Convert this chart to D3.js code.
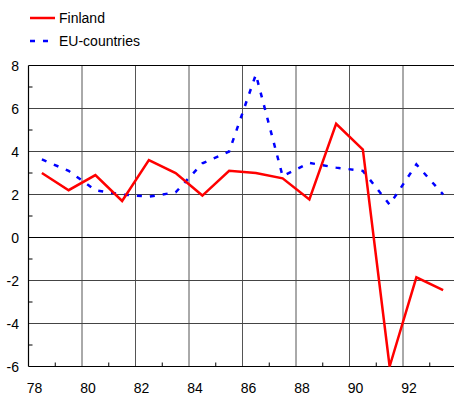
<!DOCTYPE html>
<html>
<head>
<meta charset="utf-8">
<script src="https://d3js.org/d3.v7.min.js"></script>
<style>
  body { margin: 0; background: #fff; }
  svg text { font-family: "Liberation Sans", Arial, sans-serif; font-size: 14px; fill: #000; }
</style>
</head>
<body>
<div id="chart"></div>
<script>
  "use strict"
  // data (plotted at mid-year)
  var anos = [78, 79, 80, 81, 82, 83, 84, 85, 86, 87, 88, 89, 90, 91, 92, 93];
  var finland = [3.0, 2.2, 2.9, 1.7, 3.6, 3.0, 1.95, 3.1, 3.0, 2.75, 1.77, 5.29, 4.09, -6.0, -1.85, -2.45];
  var eu = [3.63, 3.1, 2.2, 2.0, 1.9, 2.1, 3.45, 4.0, 7.58, 2.85, 3.47, 3.25, 3.1, 1.53, 3.4, 2.0];
  var xTicks = [78, 80, 82, 84, 86, 88, 90, 92];
  var yTicks = [-6, -4, -2, 0, 2, 4, 6, 8];

  var largura = 454, altura = 400;
  var svg = d3.select('#chart').append('svg')
      .attr('width', largura).attr('height', altura);

  var x = d3.scaleLinear().domain([78, 94]).range([28.5, 456.5]);
  var y = d3.scaleLinear().domain([-6, 8]).range([366.5, 65.5]);

  // grid
  svg.append('g').selectAll('line')
    .data(xTicks.slice(1))
    .enter().append('line')
      .attr('x1', d => x(d)).attr('x2', d => x(d))
      .attr('y1', y(8)).attr('y2', y(-6))
      .attr('stroke', '#555').attr('stroke-width', 1);

  svg.append('g').selectAll('line')
    .data(yTicks.slice(1))
    .enter().append('line')
      .attr('x1', x(78)).attr('x2', largura)
      .attr('y1', d => y(d)).attr('y2', d => y(d))
      .attr('stroke', d => d == 0 || d == 8 ? '#000' : '#444').attr('stroke-width', 1);

  // axes
  svg.append('line')
    .attr('x1', x(78)).attr('x2', x(78)).attr('y1', y(8)).attr('y2', y(-6))
    .attr('stroke', '#000').attr('stroke-width', 1.2);
  svg.append('line')
    .attr('x1', x(78)).attr('x2', largura).attr('y1', y(-6)).attr('y2', y(-6))
    .attr('stroke', '#000').attr('stroke-width', 1.2);

  // minor ticks
  svg.append('g').selectAll('line')
    .data(d3.range(79, 94, 2))
    .enter().append('line')
      .attr('x1', d => x(d)).attr('x2', d => x(d))
      .attr('y1', y(-6)).attr('y2', y(-6) - 4)
      .attr('stroke', '#000');
  svg.append('g').selectAll('line')
    .data(d3.range(-5, 8, 2))
    .enter().append('line')
      .attr('x1', x(78)).attr('x2', x(78) + 4)
      .attr('y1', d => y(d)).attr('y2', d => y(d))
      .attr('stroke', '#000');

  // labels
  svg.append('g').selectAll('text')
    .data(xTicks)
    .enter().append('text')
      .attr('x', d => x(d) + 6)
      .attr('y', 393)
      .attr('text-anchor', 'middle')
      .text(d => d);
  svg.append('g').selectAll('text')
    .data(yTicks)
    .enter().append('text')
      .attr('x', 19)
      .attr('y', d => y(d) + 5)
      .attr('text-anchor', 'end')
      .text(d => d);

  // lines
  var linha = function(vals) {
    return d3.line().x((d, i) => x(anos[i] + 0.5)).y(d => y(d))(vals);
  };
  svg.append('path').attr('d', linha(eu))
    .attr('fill', 'none').attr('stroke', '#0000ff')
    .attr('stroke-width', 2.5).attr('stroke-dasharray', '5,8');
  svg.append('path').attr('d', linha(finland))
    .attr('fill', 'none').attr('stroke', '#ff0000')
    .attr('stroke-width', 2.5).attr('stroke-linejoin', 'miter');

  // legend
  var legenda = [
    {nome: 'Finland', cor: '#ff0000', dash: null, y: 18},
    {nome: 'EU-countries', cor: '#0000ff', dash: '5,8', y: 41}
  ];
  legenda.forEach(function(l) {
    svg.append('line')
      .attr('x1', 30).attr('x2', 55).attr('y1', l.y).attr('y2', l.y)
      .attr('stroke', l.cor).attr('stroke-width', 2.5)
      .attr('stroke-dasharray', l.dash);
    svg.append('text').attr('x', 59).attr('y', l.y + 5).text(l.nome);
  });
</script>
</body>
</html>
